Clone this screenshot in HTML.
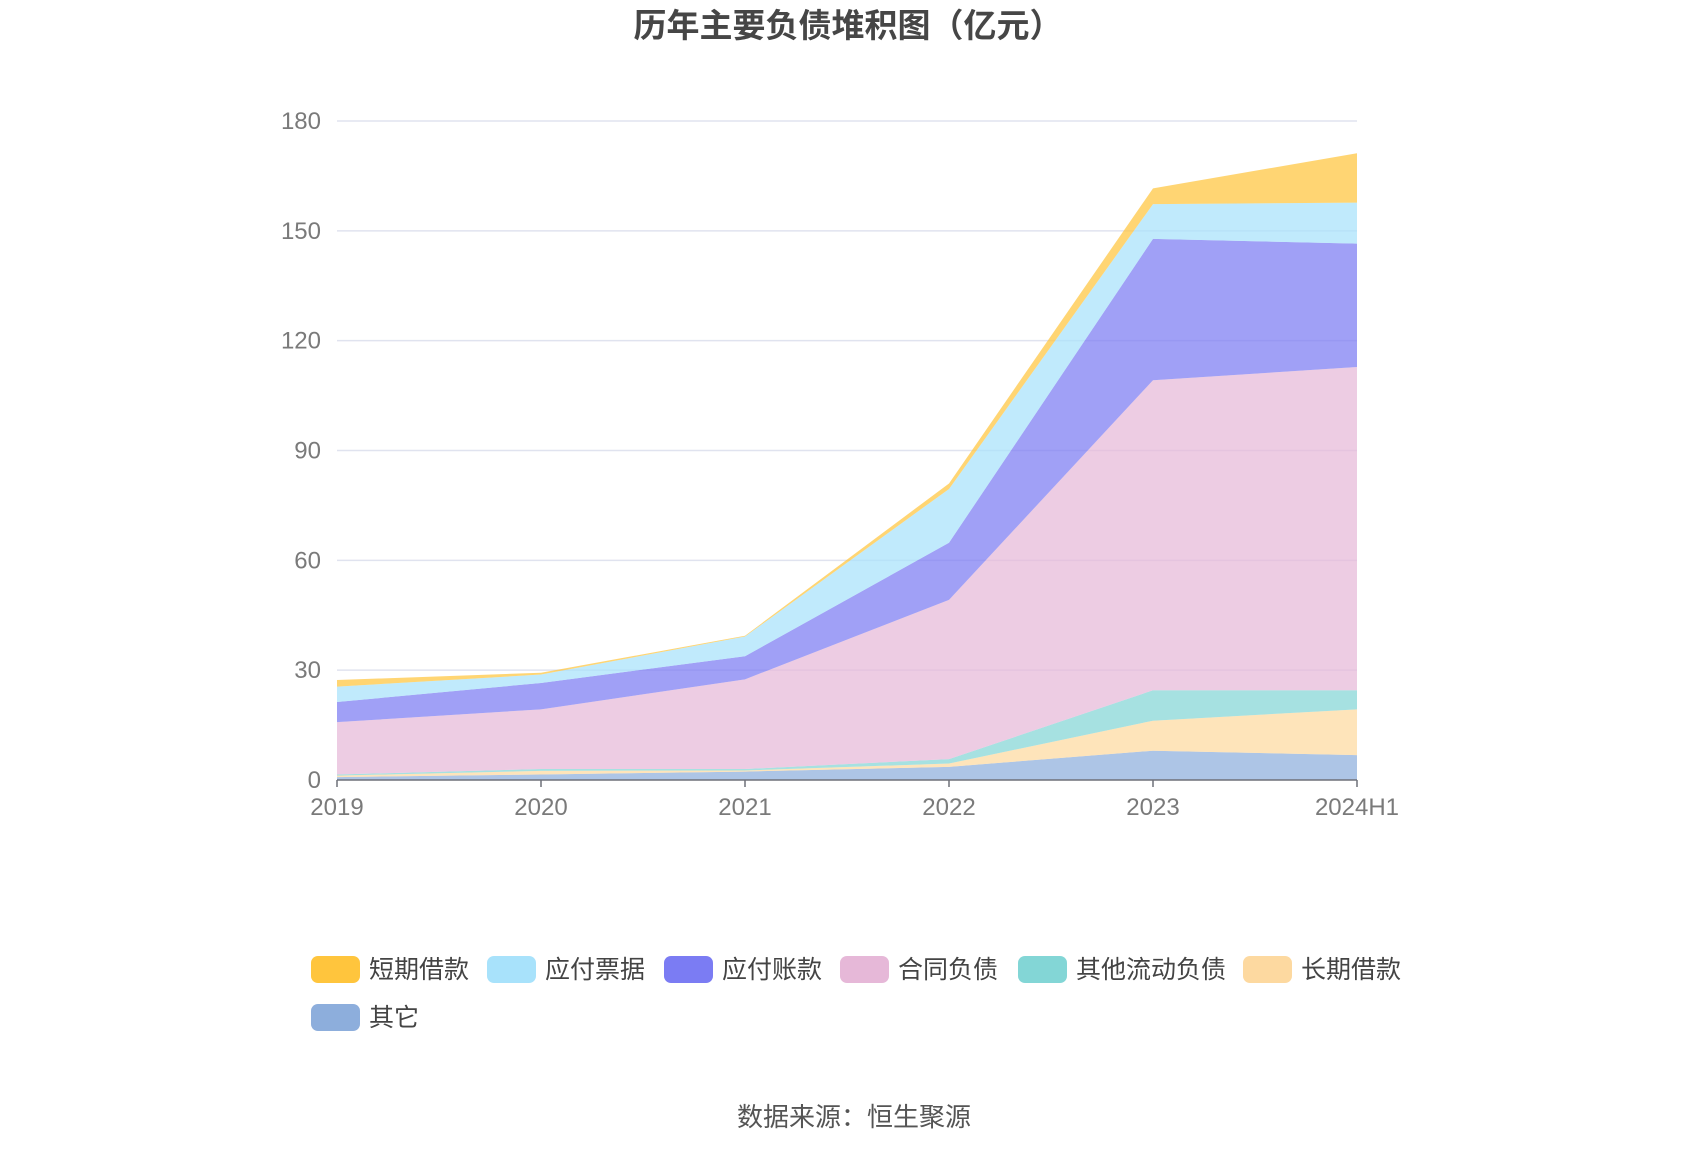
<!DOCTYPE html>
<html><head><meta charset="utf-8"><style>
body{margin:0;background:#fff;}
svg text{font-family:"Liberation Sans","Noto Sans CJK SC",sans-serif;}
</style></head><body>
<svg id="chart" width="1700" height="1150" viewBox="0 0 1700 1150" xmlns="http://www.w3.org/2000/svg">
<text x="848" y="37" text-anchor="middle" font-size="33" font-weight="bold" fill="#464646">历年主要负债堆积图（亿元）</text>
<g id="grid"></g><g id="areas"></g><g id="axes"></g><g id="legend"></g>
<text x="854" y="1126" text-anchor="middle" font-size="26" fill="#555">数据来源：恒生聚源</text>
</svg>
<script>
const categories=["2019","2020","2021","2022","2023","2024H1"];
const seriesNames=["其它","长期借款","其他流动负债","合同负债","应付账款","应付票据","短期借款"];
const other=[0.8,1.5,2.3,3.6,8.0,6.8];
const longLoan=[0.4,1.0,0.3,0.9,8.2,12.5];
const otherCurrent=[0.3,0.5,0.4,1.2,8.3,5.2];
const contract=[14.3,16.3,24.5,43.5,84.7,88.3];
const payables=[5.5,7.2,6.3,15.6,38.6,33.7];
const notes=[4.2,2.3,5.4,14.7,9.5,11.2];
const shortLoan=[1.8,0.5,0.2,1.5,4.3,13.5];
const yTicks=[0,30,60,90,120,150,180];
const legendOrder=["短期借款","应付票据","应付账款","合同负债","其他流动负债","长期借款","其它"];

const series=[other,longLoan,otherCurrent,contract,payables,notes,shortLoan];
const colors=["#8daedc","#fdd9a0","#83d6d6","#e6b8d8","#7b7cf3","#a8e2fb","#ffc53d"];
const slugs=["other","long-term-loan","other-current-liab","contract-liab","accounts-payable","notes-payable","short-term-loan"];
const X0=337,X1=1357,Y0=780,Y1=121,YMAX=180;
const NS="http://www.w3.org/2000/svg";
const xs=i=>X0+(X1-X0)*i/(categories.length-1);
const ys=v=>Y0-(Y0-Y1)*v/YMAX;
function mk(tag,attrs,parent){const e=document.createElementNS(NS,tag);for(const k in attrs)e.setAttribute(k,attrs[k]);parent.appendChild(e);return e;}
const grid=document.getElementById('grid'),areas=document.getElementById('areas'),axes=document.getElementById('axes'),legend=document.getElementById('legend');
yTicks.forEach(t=>{
  if(t>0){const l=mk('line',{x1:X0,x2:X1,y1:ys(t),y2:ys(t),stroke:'#e0e3ef','stroke-width':1.5},grid);
  
  }
  const tx=mk('text',{x:X0-16,y:ys(t)+8,'text-anchor':'end','font-size':24,fill:'#7a7a7a'},axes);
  tx.textContent=t;
  
  
});
let base=categories.map(()=>0);
series.forEach((s,si)=>{
  const top=base.map((b,i)=>b+s[i]);
  let d='';
  top.forEach((v,i)=>{d+=(i?'L':'M')+xs(i)+','+ys(v);});
  for(let i=base.length-1;i>=0;i--)d+='L'+xs(i)+','+ys(base[i]);
  d+='Z';
  const p=mk('path',{d:d,fill:colors[si],'fill-opacity':0.72},areas);
  
  
  base=top;
});
const ax=mk('line',{x1:X0,x2:X1,y1:Y0,y2:Y0,stroke:'#6e7079','stroke-width':1.5},axes);


categories.forEach((c,i)=>{
  const tk=mk('line',{x1:xs(i),x2:xs(i),y1:Y0,y2:Y0+7,stroke:'#6e7079','stroke-width':1.5},axes);
  
  
  const tx=mk('text',{x:xs(i),y:Y0+35,'text-anchor':'middle','font-size':24,fill:'#7a7a7a'},axes);
  tx.textContent=c;
  
  
});
const lx=[311,487,664,840,1018,1243,311],ly=[969,969,969,969,969,969,1017];
legendOrder.forEach((n,k)=>{
  const si=seriesNames.indexOf(n);
  const g=mk('g',{},legend);
  
  
  mk('rect',{x:lx[k],y:ly[k]-13,width:49,height:27,rx:7,fill:colors[si]},g);
  const t=mk('text',{x:lx[k]+58,y:ly[k]+9,'font-size':25,fill:'#444'},g);
  t.textContent=n;
});
</script>
</body></html>
